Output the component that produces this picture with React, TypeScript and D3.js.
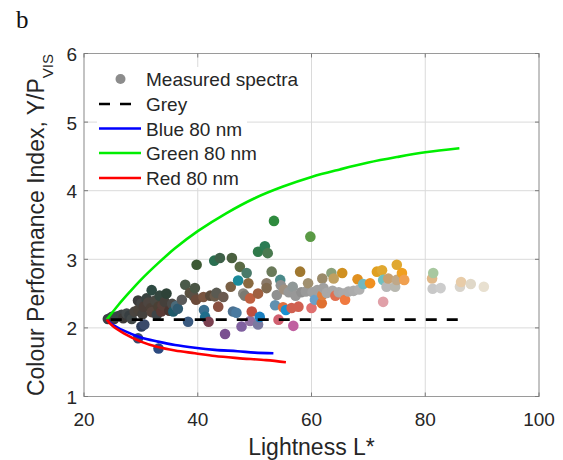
import React from "react";
import * as d3 from "d3";

// Measured spectra: lightness, performance index, sample colour
const sampleL = [
  24.2, 24.9, 25.3, 25.9, 26.6, 26.9, 27.5, 28.0, 28.4, 28.9, 29.5, 29.6, 30.1, 30.3, 30.5, 31.0, 31.3, 31.8, 31.9, 31.9,
  32.5, 32.8, 33.1, 33.3, 33.6, 33.8, 34.2, 34.5, 35.0, 35.5, 35.7, 36.2, 36.5,
  29.5, 30.1, 30.6, 33.1,
  37.2, 37.8, 38.3, 38.6, 39.3, 39.5, 39.7, 39.8, 41.0, 41.1, 41.3, 41.9, 42.2, 42.9, 43.0, 43.3, 43.6, 43.9, 44.5, 44.8,
  45.8, 46.0, 46.2, 46.8, 47.1, 47.4, 47.7, 48.0, 48.3, 48.6, 48.9, 49.2, 49.2, 49.5, 50.6, 50.6, 50.6, 50.9, 51.8, 52.1,
  52.1, 52.3, 53.0, 53.4, 53.6, 53.9, 54.2, 54.5, 54.6, 55.0, 55.2, 55.5, 56.0, 56.5, 56.7, 56.8, 57.2, 57.7, 58.0, 58.2,
  59.0, 59.4, 59.8, 60.0, 60.2, 60.6, 61.0, 61.8, 61.9, 61.9, 62.1, 62.7, 63.5, 63.7, 63.9, 64.2, 64.8, 65.4, 65.6, 65.9,
  66.5, 67.4, 68.1, 68.4, 69.1, 70.3, 71.5, 72.4, 72.6, 72.6, 73.2, 73.5, 74.7, 75.0, 75.0, 75.9, 76.3, 81.2, 81.4, 81.3,
  82.7, 86.1, 86.3, 88.0, 90.3,
];
const sampleY = [
  2.13, 2.16, 2.13, 2.17, 2.19, 2.14, 2.21, 2.18, 2.13, 2.24, 2.4, 2.27, 2.36, 2.2, 2.31, 2.43, 2.37, 2.29, 2.23, 2.55,
  2.4, 2.19, 2.31, 2.47, 2.24, 2.33, 2.38, 2.5, 2.25, 2.35, 2.24, 2.32, 2.28,
  1.85, 2.02, 2.05, 1.7,
  2.41, 2.63, 2.09, 2.51, 2.46, 2.58, 2.41, 2.92, 2.45, 2.26, 2.16, 2.09, 2.47, 2.98, 2.46, 2.51, 2.31, 3.02, 2.45, 1.91,
  2.6, 3.02, 2.24, 2.22, 2.69, 2.89, 2.02, 2.5, 2.47, 2.8, 2.65, 2.43, 2.1, 2.24, 2.5, 3.11, 2.05, 2.16, 3.19, 2.65,
  2.58, 3.09, 2.82, 3.56, 2.33, 2.48, 2.12, 2.7, 2.62, 2.3, 2.56, 2.26, 2.52, 2.29, 2.6, 2.03, 2.47, 2.31, 2.82, 2.52,
  2.53, 2.65, 3.33, 2.29, 2.52, 2.41, 2.55, 2.36, 2.48, 2.72, 2.58, 2.51, 2.8, 2.54, 2.72, 2.47, 2.52, 2.8, 2.5, 2.41,
  2.53, 2.54, 2.71, 2.56, 2.64, 2.65, 2.82, 2.84, 2.38, 2.7, 2.6, 2.72, 2.6, 2.7, 2.92, 2.8, 2.7, 2.72, 2.8, 2.57,
  2.58, 2.6, 2.67, 2.64, 2.6,
];
const sampleColor = [
  "#3b4045", "#3d4346", "#41403f", "#3a4347", "#3e4244", "#3d3b3a", "#454a4b", "#383f42", "#424848", "#4a4540",
  "#3c3c3c", "#4c443c", "#454545", "#45423e", "#4a3e38", "#3a4340", "#4d4540", "#4b4038", "#55443c", "#2e4a42",
  "#4a4842", "#3e4447", "#4a4035", "#34473f", "#5a3a35", "#574039", "#45403b", "#2e4238", "#4a3530", "#4b4a48",
  "#1f5a6a", "#4a6a7a", "#2f5a70",
  "#3a4a6a", "#2e3e5c", "#3a4a6a", "#2c4a80",
  "#5a5a5a", "#4a5a4a", "#3a5a80", "#5a5040", "#5a5045", "#4a5545", "#6a4a3a", "#3d5a35", "#7a5540", "#3a7090",
  "#1f6e8c", "#7a4050", "#5a4a3a", "#2a6e50", "#6a5a4a", "#5a5a52", "#8a5040", "#3e6048", "#6a5a50", "#7a5090",
  "#7a6045", "#4a6040", "#4a7090", "#4a7aa0", "#1a8a9a", "#5a6a45", "#8060a0", "#8a8880", "#7a7a72", "#4a7a6a",
  "#8a6a40", "#c06040", "#9070a0", "#c05040", "#a06040", "#2f7a4a", "#7a7aa0", "#1a80c0", "#2d7d55", "#8a7a6a",
  "#806a50", "#4a7a50", "#6a7a5a", "#2e8b3e", "#6090b0", "#909090", "#d06070", "#4a8a8a", "#909090", "#e07040",
  "#a09080", "#1a90d0", "#989898", "#d06050", "#909898", "#c060a0", "#989898", "#d06050", "#a07830", "#909090",
  "#9a9a9a", "#a09070", "#5a9a45", "#e07070", "#a0a0a0", "#6aa0c8", "#a0a0a0", "#e07030", "#e08040", "#9a8a6a",
  "#a0a0a0", "#a8a8a8", "#8aa07a", "#a8a8a8", "#c0a060", "#e07050", "#a8a8a8", "#d09020", "#aaaaaa", "#f07a40",
  "#aaaaaa", "#acacac", "#e09020", "#b0b0b0", "#70b8c0", "#f09020", "#e0a020", "#e0a830", "#e0a0a8", "#70c0c0",
  "#b8b8b8", "#c8a070", "#b8b8b0", "#c0a888", "#e0a830", "#f0a020", "#f0a050", "#e0b888", "#a8c8a0", "#c8c8c8",
  "#cccccc", "#d8d4cc", "#e8cca8", "#e0d8c8", "#e8e0d0",
];

// Model curves
const greyL = [24, 86];
const greyY = [2.12, 2.12];
const blueL = [24, 25, 27, 30, 33, 36, 39.5, 43, 47, 50, 53.3];
const blueY = [2.12, 2.05, 1.96, 1.86, 1.8, 1.75, 1.71, 1.68, 1.66, 1.64, 1.63];
const greenL = [24, 26, 28, 30, 33, 36, 40, 45, 50, 55, 60, 65, 70, 75, 80, 86];
const greenY = [2.12, 2.33, 2.52, 2.7, 2.94, 3.16, 3.41, 3.67, 3.89, 4.06, 4.2, 4.31, 4.41, 4.49, 4.56, 4.62];
const redL = [24, 25, 27, 30, 33, 36, 39.5, 43, 47, 52, 55.5];
const redY = [2.12, 2.03, 1.92, 1.8, 1.72, 1.67, 1.63, 1.59, 1.56, 1.53, 1.5];

const xTicks = [20, 40, 60, 80, 100];
const yTicks = [1, 2, 3, 4, 5, 6];
const legendLabels = ["Measured spectra", "Grey", "Blue 80 nm", "Green 80 nm", "Red 80 nm"];

const W = 563;
const H = 460;
const left = 84;
const right = 539;
const top = 53.5;
const bottom = 396.5;
const FONT = "'Liberation Sans', Arial, sans-serif";
const TEXT = "#262626";

export default function App() {
  const x = d3.scaleLinear().domain([20, 100]).range([left, right]);
  const y = d3.scaleLinear().domain([1, 6]).range([bottom, top]);

  const line = d3
    .line<[number, number]>()
    .x((d) => x(d[0]))
    .y((d) => y(d[1]))
    .curve(d3.curveCatmullRom.alpha(0.5));
  const toPts = (ls: number[], ys: number[]) => ls.map((l, i) => [l, ys[i]] as [number, number]);

  const curves = [
    { pts: toPts(greenL, greenY), color: "#00ee00" },
    { pts: toPts(blueL, blueY), color: "#0000ff" },
    { pts: toPts(redL, redY), color: "#ff0000" },
  ];

  const legendRowY = [79, 104, 128.5, 153, 178];
  const legendX0 = 99;
  const legendX1 = 141;

  return (
    <svg
      width={W}
      height={H}
      style={{ position: "absolute", left: 0, top: 0, background: "#fff" }}
      fontFamily={FONT}
    >
      <rect x={0} y={0} width={W} height={H} fill="#fff" />
      <text x={16} y={28} fontFamily="'Liberation Serif', 'Times New Roman', serif" fontSize={25} fill="#111">
        b
      </text>

      {/* grid */}
      {xTicks.map((t) => (
        <line key={"gx" + t} x1={x(t)} x2={x(t)} y1={top} y2={bottom} stroke="#dadada" strokeWidth={1} />
      ))}
      {yTicks.map((t) => (
        <line key={"gy" + t} x1={left} x2={right} y1={y(t)} y2={y(t)} stroke="#dadada" strokeWidth={1} />
      ))}

      {/* legend background hides grid behind entries */}
      <rect x={97} y={67} width={150} height={121} fill="#fff" />

      {/* axes box */}
      <rect x={left} y={top} width={right - left} height={bottom - top} fill="none" stroke="#9a9a9a" strokeWidth={1} />
      {xTicks.map((t) => (
        <g key={"tx" + t}>
          <line x1={x(t)} x2={x(t)} y1={bottom} y2={bottom - 4} stroke="#7a7a7a" />
          <line x1={x(t)} x2={x(t)} y1={top} y2={top + 4} stroke="#7a7a7a" />
          <text x={x(t)} y={426} textAnchor="middle" fontSize={19} fill={TEXT}>
            {t}
          </text>
        </g>
      ))}
      {yTicks.map((t) => (
        <g key={"ty" + t}>
          <line x1={left} x2={left + 4} y1={y(t)} y2={y(t)} stroke="#7a7a7a" />
          <line x1={right} x2={right - 4} y1={y(t)} y2={y(t)} stroke="#7a7a7a" />
          <text x={77} y={y(t) + 7.5} textAnchor="end" fontSize={19} fill={TEXT}>
            {t}
          </text>
        </g>
      ))}

      {/* measured spectra */}
      {sampleL.map((l, i) => (
        <circle key={"p" + i} cx={x(l)} cy={y(sampleY[i])} r={5.3} fill={sampleColor[i]} />
      ))}

      {/* grey reference */}
      <path
        d={line(toPts(greyL, greyY)) || ""}
        fill="none"
        stroke="#000"
        strokeWidth={2.6}
        strokeDasharray="11 10"
        strokeDashoffset={-4}
      />
      {curves.map((c, i) => (
        <path key={"c" + i} d={line(c.pts) || ""} fill="none" stroke={c.color} strokeWidth={2.6} strokeLinejoin="round" />
      ))}

      {/* legend */}
      <circle cx={120.5} cy={legendRowY[0]} r={5} fill="#8c8c8c" />
      <line x1={legendX0} x2={legendX1} y1={legendRowY[1]} y2={legendRowY[1]} stroke="#000" strokeWidth={2.6} strokeDasharray="11 10" />
      <line x1={legendX0} x2={legendX1} y1={legendRowY[2]} y2={legendRowY[2]} stroke="#0000ff" strokeWidth={2.6} />
      <line x1={legendX0} x2={legendX1} y1={legendRowY[3]} y2={legendRowY[3]} stroke="#00ee00" strokeWidth={2.6} />
      <line x1={legendX0} x2={legendX1} y1={legendRowY[4]} y2={legendRowY[4]} stroke="#ff0000" strokeWidth={2.6} />
      {legendLabels.map((lab, i) => (
        <text key={"lg" + i} x={146} y={legendRowY[i] + 7} fontSize={19} fill={TEXT}>
          {lab}
        </text>
      ))}

      {/* axis titles */}
      <text x={(left + right) / 2} y={455} textAnchor="middle" fontSize={23} fill={TEXT}>
        Lightness L*
      </text>
      <text transform={`translate(43.5, ${(top + bottom) / 2}) rotate(-90)`} textAnchor="middle" fontSize={23} fill={TEXT}>
        Colour Performance Index, Y/P
        <tspan fontSize={15} dy={9.5}>
          VIS
        </tspan>
      </text>
    </svg>
  );
}
